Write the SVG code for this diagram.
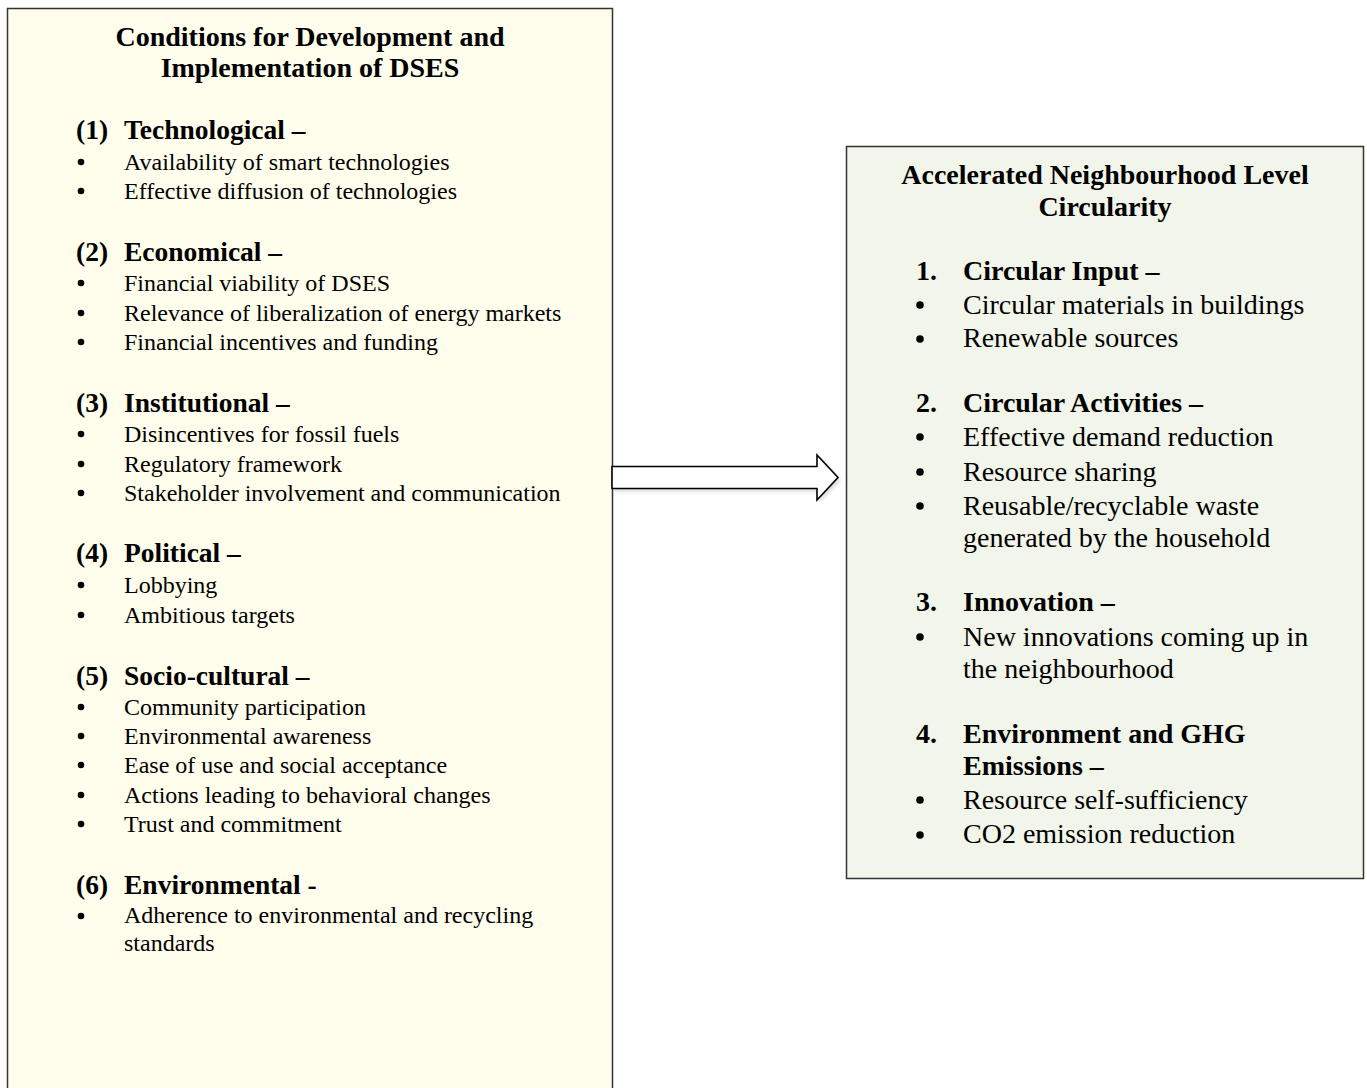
<svg xmlns="http://www.w3.org/2000/svg" width="1367" height="1088" viewBox="0 0 1367 1088">
  <defs>
    <filter id="soft" x="-10%" y="-30%" width="120%" height="160%">
      <feGaussianBlur stdDeviation="2"/>
    </filter>
  </defs>
  <style>
    text { font-family: "Liberation Serif", "Times New Roman", serif; fill: #000; }
    .title { font-weight: bold; text-anchor: middle; }
    .lt { font-size: 28px; }
    .rt { font-size: 28px; }
    .lh { font-size: 27.5px; font-weight: bold; }
    .li { font-size: 24px; }
    .rh { font-size: 28px; font-weight: bold; }
    .ri { font-size: 28px; }
    .box { stroke: #333; stroke-width: 1.5; }
  </style>
  <rect width="1367" height="1088" fill="#fff"/>

  <!-- Left panel: conditions -->
  <g id="conditions">
    <rect class="box" x="7.5" y="8.5" width="605" height="1090" fill="#FFFDEB"/>
    <text class="title lt" x="310" y="46">Conditions for Development and</text>
    <text class="title lt" x="310" y="77">Implementation of DSES</text>

    <g class="lh">
      <text x="76" y="139">(1)</text><text x="124" y="139">Technological –</text>
      <text x="76" y="261">(2)</text><text x="124" y="261">Economical –</text>
      <text x="76" y="412">(3)</text><text x="124" y="412">Institutional –</text>
      <text x="76" y="562">(4)</text><text x="124" y="562">Political –</text>
      <text x="76" y="685">(5)</text><text x="124" y="685">Socio-cultural –</text>
      <text x="76" y="894">(6)</text><text x="124" y="894">Environmental -</text>
    </g>
    <g fill="#000">
      <circle cx="81" cy="162" r="3.3"/><circle cx="81" cy="191" r="3.3"/>
      <circle cx="81" cy="283" r="3.3"/><circle cx="81" cy="313" r="3.3"/><circle cx="81" cy="342" r="3.3"/>
      <circle cx="81" cy="434" r="3.3"/><circle cx="81" cy="464" r="3.3"/><circle cx="81" cy="493" r="3.3"/>
      <circle cx="81" cy="585" r="3.3"/><circle cx="81" cy="615" r="3.3"/>
      <circle cx="81" cy="707" r="3.3"/><circle cx="81" cy="736" r="3.3"/><circle cx="81" cy="765" r="3.3"/><circle cx="81" cy="795" r="3.3"/><circle cx="81" cy="824" r="3.3"/>
      <circle cx="81" cy="916" r="3.3"/>
    </g>
    <g class="li">
      <text x="124" y="170">Availability of smart technologies</text>
      <text x="124" y="199">Effective diffusion of technologies</text>
      <text x="124" y="291">Financial viability of DSES</text>
      <text x="124" y="321">Relevance of liberalization of energy markets</text>
      <text x="124" y="350">Financial incentives and funding</text>
      <text x="124" y="442">Disincentives for fossil fuels</text>
      <text x="124" y="472">Regulatory framework</text>
      <text x="124" y="501">Stakeholder involvement and communication</text>
      <text x="124" y="593">Lobbying</text>
      <text x="124" y="623">Ambitious targets</text>
      <text x="124" y="715">Community participation</text>
      <text x="124" y="744">Environmental awareness</text>
      <text x="124" y="773">Ease of use and social acceptance</text>
      <text x="124" y="803">Actions leading to behavioral changes</text>
      <text x="124" y="832">Trust and commitment</text>
      <text x="124" y="923">Adherence to environmental and recycling</text>
      <text x="124" y="951">standards</text>
    </g>
  </g>

  <!-- Right panel: outcomes -->
  <g id="circularity">
    <rect class="box" x="846.5" y="146.5" width="517" height="732" fill="#F2F5EA"/>
    <text class="title rt" x="1105" y="184">Accelerated Neighbourhood Level</text>
    <text class="title rt" x="1105" y="216">Circularity</text>

    <g class="rh">
      <text x="916" y="280">1.</text><text x="963" y="280">Circular Input –</text>
      <text x="916" y="412">2.</text><text x="963" y="412">Circular Activities –</text>
      <text x="916" y="611">3.</text><text x="963" y="611">Innovation –</text>
      <text x="916" y="743">4.</text><text x="963" y="743">Environment and GHG</text>
      <text x="963" y="775">Emissions –</text>
    </g>
    <g fill="#000">
      <circle cx="920" cy="305" r="3.8"/><circle cx="920" cy="339" r="3.8"/>
      <circle cx="920" cy="437" r="3.8"/><circle cx="920" cy="472" r="3.8"/><circle cx="920" cy="506" r="3.8"/>
      <circle cx="920" cy="637" r="3.8"/>
      <circle cx="920" cy="800" r="3.8"/><circle cx="920" cy="835" r="3.8"/>
    </g>
    <g class="ri">
      <text x="963" y="314">Circular materials in buildings</text>
      <text x="963" y="347">Renewable sources</text>
      <text x="963" y="446">Effective demand reduction</text>
      <text x="963" y="481">Resource sharing</text>
      <text x="963" y="515">Reusable/recyclable waste</text>
      <text x="963" y="547">generated by the household</text>
      <text x="963" y="646">New innovations coming up in</text>
      <text x="963" y="678">the neighbourhood</text>
      <text x="963" y="809">Resource self-sufficiency</text>
      <text x="963" y="843">CO2 emission reduction</text>
    </g>
  </g>

  <!-- Connector: block arrow -->
  <g id="connectors">
    <path d="M614 469 H819 V458 L840 480 L819 502 V491 H614 Z" fill="#999" opacity="0.45" filter="url(#soft)"/>
    <path d="M612 466.5 H817 V455 L838 477.5 L817 500 V488.5 H612 Z" fill="#fff" stroke="#000" stroke-width="1.6" stroke-linejoin="miter"/>
  </g>
</svg>
